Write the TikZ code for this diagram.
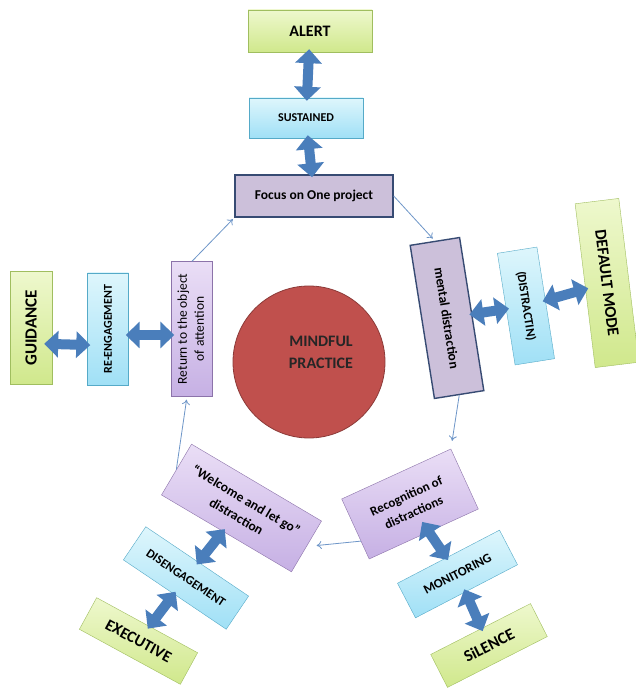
\documentclass[tikz,border=0pt]{standalone}
\usepackage{fontspec}
\setmainfont{Carlito}
\usepackage{graphicx}
\usepackage{tikz}
\usetikzlibrary{arrows.meta,calc}
\definecolor{lime-top}{RGB}{238,248,205}
\definecolor{lime-fill}{RGB}{208,232,140}
\definecolor{lime-line}{RGB}{160,190,95}
\definecolor{aqua-top}{RGB}{222,246,252}
\definecolor{aqua-fill}{RGB}{160,224,246}
\definecolor{aqua-line}{RGB}{85,170,200}
\definecolor{lilac-top}{RGB}{234,222,246}
\definecolor{lilac-fill}{RGB}{198,176,228}
\definecolor{lilac-line}{RGB}{140,115,170}
\definecolor{plum-fill}{RGB}{204,192,218}
\definecolor{plum-line}{RGB}{55,75,115}
\definecolor{brick}{RGB}{192,80,77}
\definecolor{brick-line}{RGB}{140,58,56}
\definecolor{arrow-blue}{RGB}{74,126,187}
\definecolor{flow-blue}{RGB}{110,150,200}
\newcommand{\fsize}[2]{\fontsize{#1}{#2}\selectfont}
\tikzstyle{greenbox}=[draw=lime-line, top color=lime-top, bottom color=lime-fill, inner sep=2pt, font=\bfseries]
\tikzstyle{cyanbox}=[draw=aqua-line, top color=aqua-top, bottom color=aqua-fill, inner sep=2pt, font=\bfseries]
\tikzstyle{lilacbox}=[draw=lilac-line, top color=lilac-top, bottom color=lilac-fill, inner sep=2pt, align=center]
\tikzstyle{plumbox}=[draw=plum-line, fill=plum-fill, line width=1.4pt, inner sep=2pt, font=\bfseries\fsize{13.5pt}{17pt}]
\tikzstyle{fatarrow}=[draw=arrow-blue, line width=10pt, {Triangle[width=26pt,length=14pt]}-{Triangle[width=26pt,length=14pt]}, shorten <=-3pt, shorten >=-3pt]
\tikzstyle{flow}=[draw=flow-blue, line width=0.8pt, -{To[length=5pt,width=8pt]}]

\begin{document}
\begin{tikzpicture}[x=1pt,y=1pt]
	\useasboundingbox[fill=white] (0,0) rectangle (636,688);
	% attention chain at the top
	\node[greenbox, minimum width=124, minimum height=42, font=\bfseries\fsize{16pt}{19pt}] (alert) at (310,657) {ALERT};
	\node[cyanbox, minimum width=114, minimum height=40, font=\bfseries\fsize{12pt}{15pt}] (sustained) at (306,570) {SUSTAINED};
	\node[plumbox, minimum width=158, minimum height=42] (focus) at (314,492) {Focus on One project};
	% right side
	\node[plumbox, minimum width=155, minimum height=50, rotate=-81] (mental) at (447,370) {mental distraction};
	\node[cyanbox, minimum width=113, minimum height=40, rotate=-81, font=\bfseries\fsize{12.5pt}{15pt}] (distractin) at (526,382) {(DISTRACTIN)};
	\node[greenbox, minimum width=165, minimum height=44, rotate=-83, font=\bfseries\fsize{16.5pt}{19pt}] (default) at (607,405) {DEFAULT MODE};
	% left side
	\node[greenbox, minimum width=42, minimum height=113, font=\bfseries\fsize{17pt}{20pt}] (guidance) at (31,360) {\rotatebox{90}{GUIDANCE}};
	\node[cyanbox, minimum width=41, minimum height=112, font=\bfseries\fsize{12pt}{15pt}] (reengage) at (108,359) {\rotatebox{90}{RE-ENGAGEMENT}};
	\node[lilacbox, minimum width=41, minimum height=135, font=\fsize{13.5pt}{17pt}] (return) at (192,359) {\rotatebox{90}{\begin{tabular}{@{}c@{}}Return to the object\\of attention\end{tabular}}};
	% centre
	\node[circle, draw=brick-line, fill=brick, line width=0.8pt, minimum size=152] (mindful) at (309,326) {};
	\node[font=\bfseries\fsize{16pt}{22pt}, align=center, text=black!85] (practice) at (321,336) {MINDFUL\\PRACTICE};
	% bottom left
	\node[lilacbox, minimum width=151, minimum height=59, rotate=-30.6, font=\bfseries\fsize{13.5pt}{19pt}] (welcome) at (241.5,180) {“Welcome and let go”\\distraction};
	\node[cyanbox, minimum width=124, minimum height=40, rotate=-34, font=\bfseries\fsize{12.5pt}{15pt}] (disengage) at (186,110) {DISENGAGEMENT};
	\node[greenbox, minimum width=115, minimum height=36, rotate=-28.6, font=\bfseries\fsize{16pt}{19pt}] (executive) at (138.5,47) {EXECUTIVE};
	% bottom right
	\node[lilacbox, minimum width=120, minimum height=66, rotate=24.6, font=\bfseries\fsize{13pt}{18pt}] (recognition) at (410,184) {Recognition of\\distractions};
	\node[cyanbox, minimum width=115, minimum height=39, rotate=27.5, font=\bfseries\fsize{13pt}{15pt}] (monitoring) at (457.5,114) {MONITORING};
	\node[greenbox, minimum width=112, minimum height=37, rotate=27, font=\bfseries\fsize{16.5pt}{19pt}] (silence) at (489,42.5) {SiLENCE};

	\draw[fatarrow] (alert) -- (sustained);
	\draw[fatarrow] (sustained) -- (focus);
	\draw[fatarrow] (mental) -- (distractin);
	\draw[fatarrow] (distractin) -- (default);
	\draw[fatarrow, shorten <=-8pt] ([yshift=-16]guidance.east) -- ([yshift=-16]reengage.west);
	\draw[fatarrow] ([yshift=-6]reengage.east) -- ([yshift=-6]return.west);
	\draw[fatarrow] (welcome) -- (disengage);
	\draw[fatarrow] (disengage) -- (executive);
	\draw[fatarrow, shorten <=-12pt] (recognition) -- (monitoring);
	\draw[fatarrow] (monitoring) -- (silence);

	\draw[flow, shorten >=3pt] (focus.east) -- (mental.west);
	\draw[flow, shorten >=8pt] (mental.east) -- (recognition.north east);
	\draw[flow, shorten >=10pt] ($(recognition.north west)!0.7!(recognition.south west)$) -- (welcome.east);
	\draw[flow, shorten >=3pt] (welcome.west) -- ([xshift=-5]return.south);
	\draw[flow, shorten >=2pt] (return.north) -- (focus.south west);
\end{tikzpicture}
\end{document}
